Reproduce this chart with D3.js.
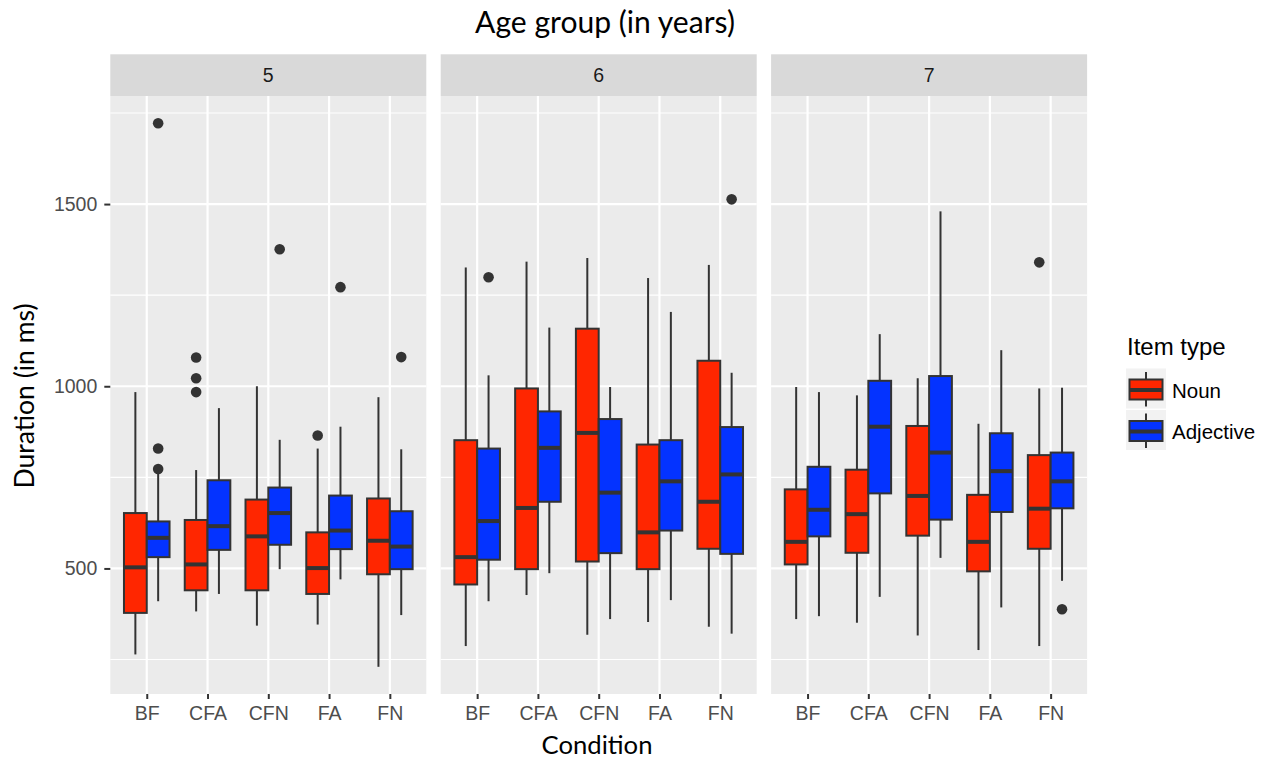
<!DOCTYPE html>
<html lang="en">
<head>
    <meta charset="UTF-8">
    <title>Duration by condition, item type and age group</title>
    <script src="https://d3js.org/d3.v7.min.js"></script>
    <style>
        html, body { margin: 0; padding: 0; background: #fff; }
        svg { display: block; }
    </style>
</head>
<body>
    <svg id="chart" width="1271" height="758"></svg>
    <script>
        // Data
        var ages = ["5", "6", "7"];
        var conditions = ["BF", "CFA", "CFN", "FA", "FN"];
        var itemTypes = ["Noun", "Adjective"];
        var yTicks = [500, 1000, 1500];
        var yMinorTicks = [250, 750, 1250, 1750];

        // per condition: [lower whisker, Q1, median, Q3, upper whisker]
        var noun5 = [
            [264, 378, 503, 652, 984],
            [382, 440, 511, 633, 770],
            [343, 440, 588, 689, 1000],
            [346, 430, 501, 599, 829],
            [230, 484, 576, 692, 970]
        ];
        var adjective5 = [
            [410, 531, 584, 629, 762],
            [430, 551, 616, 742, 940],
            [498, 565, 652, 722, 853],
            [470, 553, 604, 700, 889],
            [372, 498, 560, 657, 827]
        ];
        var noun6 = [
            [287, 456, 531, 852, 1326],
            [427, 498, 666, 994, 1342],
            [318, 519, 872, 1158, 1352],
            [353, 498, 599, 840, 1297],
            [340, 554, 683, 1070, 1333]
        ];
        var adjective6 = [
            [410, 524, 630, 829, 1030],
            [487, 683, 831, 931, 1161],
            [361, 542, 708, 910, 998],
            [413, 604, 739, 852, 1204],
            [321, 540, 758, 888, 1037]
        ];
        var noun7 = [
            [361, 511, 573, 717, 998],
            [351, 543, 649, 771, 975],
            [316, 590, 699, 891, 1022],
            [276, 492, 573, 702, 897],
            [287, 554, 664, 811, 994]
        ];
        var adjective7 = [
            [369, 588, 661, 779, 984],
            [422, 706, 889, 1015, 1143],
            [529, 634, 818, 1028, 1480],
            [393, 655, 767, 871, 1099],
            [466, 665, 739, 818, 996]
        ];
        // [age, condition, item type, value]
        var outliers = [
            ["5", "BF", "Adjective", 1722], ["5", "BF", "Adjective", 829], ["5", "BF", "Adjective", 773],
            ["5", "CFA", "Noun", 1079], ["5", "CFA", "Noun", 1022], ["5", "CFA", "Noun", 984],
            ["5", "CFN", "Adjective", 1376],
            ["5", "FA", "Noun", 865], ["5", "FA", "Adjective", 1272],
            ["5", "FN", "Adjective", 1080],
            ["6", "BF", "Adjective", 1299],
            ["6", "FN", "Adjective", 1513],
            ["7", "FN", "Noun", 1340], ["7", "FN", "Adjective", 388]
        ];

        var fills = { "Noun": "#ff2600", "Adjective": "#0433ff" };
        var stats = {
            "5": { "Noun": noun5, "Adjective": adjective5 },
            "6": { "Noun": noun6, "Adjective": adjective6 },
            "7": { "Noun": noun7, "Adjective": adjective7 }
        };

        var axisFont = "'Liberation Sans', Arial, Helvetica, sans-serif";
        var titleFont = "Lato, 'Open Sans', sans-serif";

        var svg = d3.select("#chart");

        var panelLeft = 110.3, panelW = 316, panelGap = 14.4;
        var stripTop = 54.3, panelTop = 96, panelBottom = 694;

        // y range of data with ggplot's 5% expansion
        var allVals = [];
        ages.forEach(function(a) {
            itemTypes.forEach(function(t) {
                stats[a][t].forEach(function(s) { allVals.push(s[0], s[4]); });
            });
        });
        outliers.forEach(function(o) { allVals.push(o[3]); });
        var ext = d3.extent(allVals);
        var pad = (ext[1] - ext[0]) * 0.05;

        var y = d3.scaleLinear()
            .domain([ext[0] - pad, ext[1] + pad])
            .range([panelBottom, panelTop]);

        var panelX = d3.scaleBand()
            .domain(ages)
            .range([panelLeft, panelLeft + 3 * panelW + 2 * panelGap])
            .paddingInner(panelGap / (panelW + panelGap));

        ages.forEach(function(age, pi) {
            var x0 = panelX(age);
            var w = panelX.bandwidth();
            var x = d3.scalePoint().domain(conditions).range([0, w]).padding(0.6);
            var step = x.step();
            var dodge = d3.scaleBand().domain(itemTypes).range([-0.375 * step, 0.375 * step]);
            var bw = dodge.bandwidth();

            var g = svg.append("g").attr("transform", "translate(" + x0 + ",0)");

            // strip
            g.append("rect")
                .attr("x", 0).attr("y", stripTop)
                .attr("width", w).attr("height", panelTop - stripTop)
                .attr("fill", "#d9d9d9");
            g.append("text")
                .attr("x", w / 2).attr("y", (stripTop + panelTop) / 2)
                .attr("dy", "0.35em")
                .attr("text-anchor", "middle")
                .style("font-family", axisFont).style("font-size", "19.5px")
                .attr("fill", "#1a1a1a")
                .text(age);

            // panel
            g.append("rect")
                .attr("x", 0).attr("y", panelTop)
                .attr("width", w).attr("height", panelBottom - panelTop)
                .attr("fill", "#ebebeb");

            g.selectAll(".minor").data(yMinorTicks).enter().append("line")
                .attr("x1", 0).attr("x2", w)
                .attr("y1", function(d) { return y(d); })
                .attr("y2", function(d) { return y(d); })
                .attr("stroke", "#fff").attr("stroke-width", 1.1);
            g.selectAll(".major").data(yTicks).enter().append("line")
                .attr("x1", 0).attr("x2", w)
                .attr("y1", function(d) { return y(d); })
                .attr("y2", function(d) { return y(d); })
                .attr("stroke", "#fff").attr("stroke-width", 2.2);
            g.selectAll(".vmajor").data(conditions).enter().append("line")
                .attr("x1", function(d) { return x(d); })
                .attr("x2", function(d) { return x(d); })
                .attr("y1", panelTop).attr("y2", panelBottom)
                .attr("stroke", "#fff").attr("stroke-width", 2.2);

            // boxes
            conditions.forEach(function(c, ci) {
                itemTypes.forEach(function(t) {
                    var s = stats[age][t][ci];
                    var cx = x(c) + dodge(t) + bw / 2;
                    var bx = x(c) + dodge(t);
                    g.append("line")
                        .attr("x1", cx).attr("x2", cx)
                        .attr("y1", y(s[4])).attr("y2", y(s[3]))
                        .attr("stroke", "#333").attr("stroke-width", 2);
                    g.append("line")
                        .attr("x1", cx).attr("x2", cx)
                        .attr("y1", y(s[1])).attr("y2", y(s[0]))
                        .attr("stroke", "#333").attr("stroke-width", 2);
                    g.append("rect")
                        .attr("x", bx).attr("y", y(s[3]))
                        .attr("width", bw).attr("height", y(s[1]) - y(s[3]))
                        .attr("fill", fills[t])
                        .attr("stroke", "#333").attr("stroke-width", 2);
                    g.append("line")
                        .attr("x1", bx).attr("x2", bx + bw)
                        .attr("y1", y(s[2])).attr("y2", y(s[2]))
                        .attr("stroke", "#333").attr("stroke-width", 4);
                });
            });

            g.selectAll(".outlier")
                .data(outliers.filter(function(o) { return o[0] === age; }))
                .enter().append("circle")
                .attr("cx", function(o) { return x(o[1]) + dodge(o[2]) + bw / 2; })
                .attr("cy", function(o) { return y(o[3]); })
                .attr("r", 5.3)
                .attr("fill", "#333");

            // x axis
            var xa = g.append("g")
                .attr("transform", "translate(0," + panelBottom + ")")
                .call(d3.axisBottom(x).tickSize(5).tickPadding(7));
            xa.select(".domain").remove();
            xa.selectAll("line").attr("stroke", "#333").attr("stroke-width", 2);
            xa.selectAll("text")
                .style("font-family", axisFont).style("font-size", "19.5px")
                .attr("fill", "#4d4d4d");

            if (pi === 0) {
                var ya = g.append("g")
                    .call(d3.axisLeft(y).tickValues(yTicks).tickFormat(d3.format("d"))
                        .tickSize(6).tickPadding(7));
                ya.select(".domain").remove();
                ya.selectAll("line").attr("stroke", "#333").attr("stroke-width", 2);
                ya.selectAll("text")
                    .style("font-family", axisFont).style("font-size", "19.5px")
                    .attr("fill", "#4d4d4d");
            }
        });

        // scale a text's font size so it spans a given width
        function fitWidth(sel, target) {
            var len = sel.node().getComputedTextLength();
            var fs = parseFloat(sel.style("font-size"));
            sel.style("font-size", (fs * target / len) + "px");
        }

        var title = svg.append("text")
            .attr("x", 605).attr("y", 33)
            .attr("text-anchor", "middle")
            .style("font-family", titleFont).style("font-size", "26px")
            .attr("fill", "#000")
            .text("Age group (in years)");
        fitWidth(title, 260);

        var xTitle = svg.append("text")
            .attr("x", 597).attr("y", 754)
            .attr("text-anchor", "middle")
            .style("font-family", titleFont).style("font-size", "26px")
            .attr("fill", "#000")
            .text("Condition");
        fitWidth(xTitle, 111);

        var yTitle = svg.append("text")
            .attr("transform", "translate(34,396) rotate(-90)")
            .attr("text-anchor", "middle")
            .style("font-family", titleFont).style("font-size", "26px")
            .attr("fill", "#000")
            .text("Duration (in ms)");
        fitWidth(yTitle, 185);

        // legend
        var legend = svg.append("g").attr("transform", "translate(1126,0)");
        legend.append("text")
            .attr("x", 1).attr("y", 355)
            .style("font-family", axisFont).style("font-size", "24px")
            .attr("fill", "#000")
            .text("Item type");

        var keySize = 40, keyStep = 41.5, keyTop = 368.5;
        var keyY = d3.scaleBand()
            .domain(itemTypes)
            .range([keyTop, keyTop + keyStep * itemTypes.length]);

        itemTypes.forEach(function(t) {
            var ky = keyY(t);
            var k = legend.append("g").attr("transform", "translate(0," + ky + ")");
            k.append("rect")
                .attr("width", keySize).attr("height", keySize)
                .attr("fill", "#f2f2f2");
            k.append("line")
                .attr("x1", keySize / 2).attr("x2", keySize / 2)
                .attr("y1", 3.5).attr("y2", keySize - 2)
                .attr("stroke", "#333").attr("stroke-width", 2);
            k.append("rect")
                .attr("x", 3.5).attr("y", 11)
                .attr("width", keySize - 7).attr("height", 20)
                .attr("fill", fills[t])
                .attr("stroke", "#333").attr("stroke-width", 2);
            k.append("line")
                .attr("x1", 3.5).attr("x2", keySize - 3.5)
                .attr("y1", 21.5).attr("y2", 21.5)
                .attr("stroke", "#333").attr("stroke-width", 4);
            k.append("text")
                .attr("x", 46).attr("y", 22)
                .attr("dy", "0.35em")
                .style("font-family", axisFont).style("font-size", "20.5px")
                .attr("fill", "#000")
                .text(t);
        });
    </script>
</body>
</html>
